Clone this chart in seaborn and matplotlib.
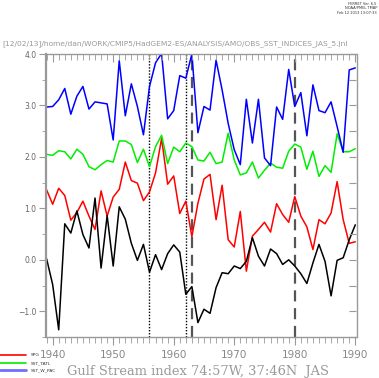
import numpy as np
import pandas as pd
import seaborn as sns
import matplotlib.pyplot as plt
from matplotlib.ticker import MultipleLocator

# Values (1939-1990, annual)
years = list(range(1939, 1991))

gulf_stream = [0.02, -0.48, -1.36, 0.70, 0.52, 0.95, 0.49, 0.23, 1.20, -0.16,
               0.86, -0.12, 1.03, 0.79, 0.32, -0.01, 0.30, -0.24, 0.10, -0.19,
               0.12, 0.29, 0.15, -0.67, -0.52, -1.22, -0.96, -1.04, -0.54, -0.25,
               -0.27, -0.12, -0.17, -0.03, 0.43, 0.07, -0.12, 0.21, 0.12, -0.09,
               0.00, -0.12, -0.27, -0.46, -0.06, 0.30, -0.03, -0.70, -0.01, 0.04,
               0.39, 0.68]

spg = [1.36, 1.08, 1.39, 1.25, 0.77, 0.92, 1.14, 0.85, 0.59, 1.34,
       0.85, 1.22, 1.37, 1.90, 1.54, 1.49, 1.15, 1.32, 1.69, 2.36,
       1.47, 1.63, 0.90, 1.14, 0.45, 1.10, 1.57, 1.66, 0.78, 1.45,
       0.39, 0.25, 0.94, -0.22, 0.46, 0.59, 0.73, 0.54, 1.09, 0.88,
       0.73, 1.23, 0.85, 0.64, 0.20, 0.78, 0.70, 0.91, 1.52, 0.78,
       0.32, 0.35]

sst_tatl = [2.05, 2.03, 2.12, 2.10, 1.96, 2.15, 2.05, 1.81, 1.75, 1.85,
            1.93, 1.90, 2.31, 2.31, 2.24, 1.89, 2.15, 1.81, 2.20, 2.42,
            1.87, 2.19, 2.10, 2.27, 2.20, 1.94, 1.92, 2.09, 1.87, 1.90,
            2.46, 1.94, 1.65, 1.69, 1.90, 1.59, 1.74, 1.88, 1.80, 1.78,
            2.11, 2.25, 2.19, 1.76, 2.11, 1.62, 1.83, 1.70, 2.45, 2.10,
            2.10, 2.16]

sst_w_pac = [2.97, 2.98, 3.11, 3.33, 2.83, 3.18, 3.37, 2.93, 3.07, 3.05,
             3.03, 2.33, 3.87, 2.80, 3.42, 2.98, 2.43, 3.37, 3.83, 4.01,
             2.74, 2.90, 3.58, 3.53, 4.00, 2.47, 2.98, 2.91, 3.88, 3.30,
             2.65, 2.14, 1.85, 3.12, 2.27, 3.12, 1.98, 1.83, 2.97, 2.73,
             3.70, 2.98, 3.25, 2.41, 3.40, 2.90, 2.86, 3.07, 2.59, 2.09,
             3.69, 3.73]

dotted_years = [1956, 1962]
dashed_years = [1963, 1980]

series_names = ["SPG", "SST_TATL", "SST_W_PAC", "GS"]
series_colors = ["#ff0000", "#00ee00", "#0000ff", "#000000"]

df = pd.DataFrame({
    "year": years * 4,
    "value": spg + sst_tatl + sst_w_pac + gulf_stream,
    "series": np.repeat(series_names, len(years)),
})

sns.set_style("white")
plt.rcParams['font.family'] = ['DejaVu Sans']

fig = plt.figure(figsize=(3.79, 3.78), dpi=100)
ax = fig.add_axes([46 / 379, 1 - 337 / 378, 310.5 / 379, 283 / 378])

sns.lineplot(data=df, x="year", y="value", hue="series", hue_order=series_names,
             palette=series_colors, linewidth=1.1, legend=False, ax=ax)

for yr in dotted_years:
    ax.axvline(yr, color="black", linestyle=(0, (1, 1.2)), linewidth=1.0, zorder=1)
for yr in dashed_years:
    ax.axvline(yr, color="#555555", linestyle=(0, (5, 3)), linewidth=1.6, zorder=1)

ax.set_xlim(1938.9, 1990.2)
ax.set_ylim(-1.5, 4.0)
ax.set_xlabel("")
ax.set_ylabel("")

grey = "#888888"
for s in ax.spines.values():
    s.set_color("#999999")
    s.set_linewidth(1.0)
ax.spines["left"].set_linewidth(1.6)

# bottom / left: outward ticks with labels
ax.xaxis.set_major_locator(MultipleLocator(10))
ax.xaxis.set_minor_locator(MultipleLocator(1))
ax.yaxis.set_major_locator(MultipleLocator(1))
ax.yaxis.set_minor_locator(MultipleLocator(0.5))
ax.tick_params(axis="x", which="both", bottom=True, top=False, direction="out",
               colors="#999999", labelcolor=grey, labelsize=7.5, pad=3)
ax.tick_params(axis="x", which="major", length=6)
ax.tick_params(axis="x", which="minor", length=4)
ax.tick_params(axis="y", which="both", left=True, right=False, direction="out",
               colors="#999999", labelcolor="#666666", labelsize=5.5, pad=2)
ax.tick_params(axis="y", which="major", length=5)
ax.tick_params(axis="y", which="minor", length=3)
ax.yaxis.set_major_formatter(plt.FuncFormatter(lambda v, p: f"{v:.1f}".replace("-", "\u2212")))

# top / right: inward ticks, no labels
top = ax.twiny()
top.set_xlim(ax.get_xlim())
top.xaxis.set_major_locator(MultipleLocator(10))
top.xaxis.set_minor_locator(MultipleLocator(1))
top.tick_params(axis="x", which="both", direction="in", colors="#999999",
                labeltop=False, top=True, bottom=False)
top.tick_params(axis="x", which="major", length=6)
top.tick_params(axis="x", which="minor", length=4)
right = ax.twinx()
right.set_ylim(ax.get_ylim())
right.yaxis.set_major_locator(MultipleLocator(0.5))
right.tick_params(axis="y", which="both", direction="in", colors="#999999",
                  labelright=False, right=True, left=False, length=5)
for a in (top, right):
    for s in a.spines.values():
        s.set_visible(False)

fig.text(2 / 379, 1 - 44 / 378, "[12/02/13]/home/dan/WORK/CMIP5/HadGEM2-ES/ANALYSIS/AMO/OBS_SST_INDICES_JAS_5.jnl",
         fontsize=5.4, color="#999999", va="center", ha="left")
fig.text(377 / 379, 1 - 2 / 378, "FERRET Ver. 6.5\nNOAA/PMEL TMAP\nFeb 12 2013 13:07:33",
         fontsize=2.6, color="#333333", va="top", ha="right", linespacing=1.1)
fig.text(67 / 379, 1 - 372 / 378, "Gulf Stream index 74:57W, 37:46N  JAS",
         fontsize=9.4, color="#999999", family="DejaVu Serif", va="center", ha="left")

leg_names = ["SPG", "SST_TATL", "SST_W_PAC"]
leg_colors = ["#ff0000", "#00ee00", "#6f6fff"]
leg_y = [355, 363, 370]
for name, col, yy in zip(leg_names, leg_colors, leg_y):
    y = 1 - yy / 378
    fig.add_artist(plt.Line2D([0, 26 / 379], [y, y], color=col, linewidth=1.2 if col != "#6f6fff" else 2.0,
                              transform=fig.transFigure))
    fig.text(31 / 379, y, name, fontsize=3.2, color="#333333", va="center", ha="left")

fig.savefig("out.png", dpi=100)
